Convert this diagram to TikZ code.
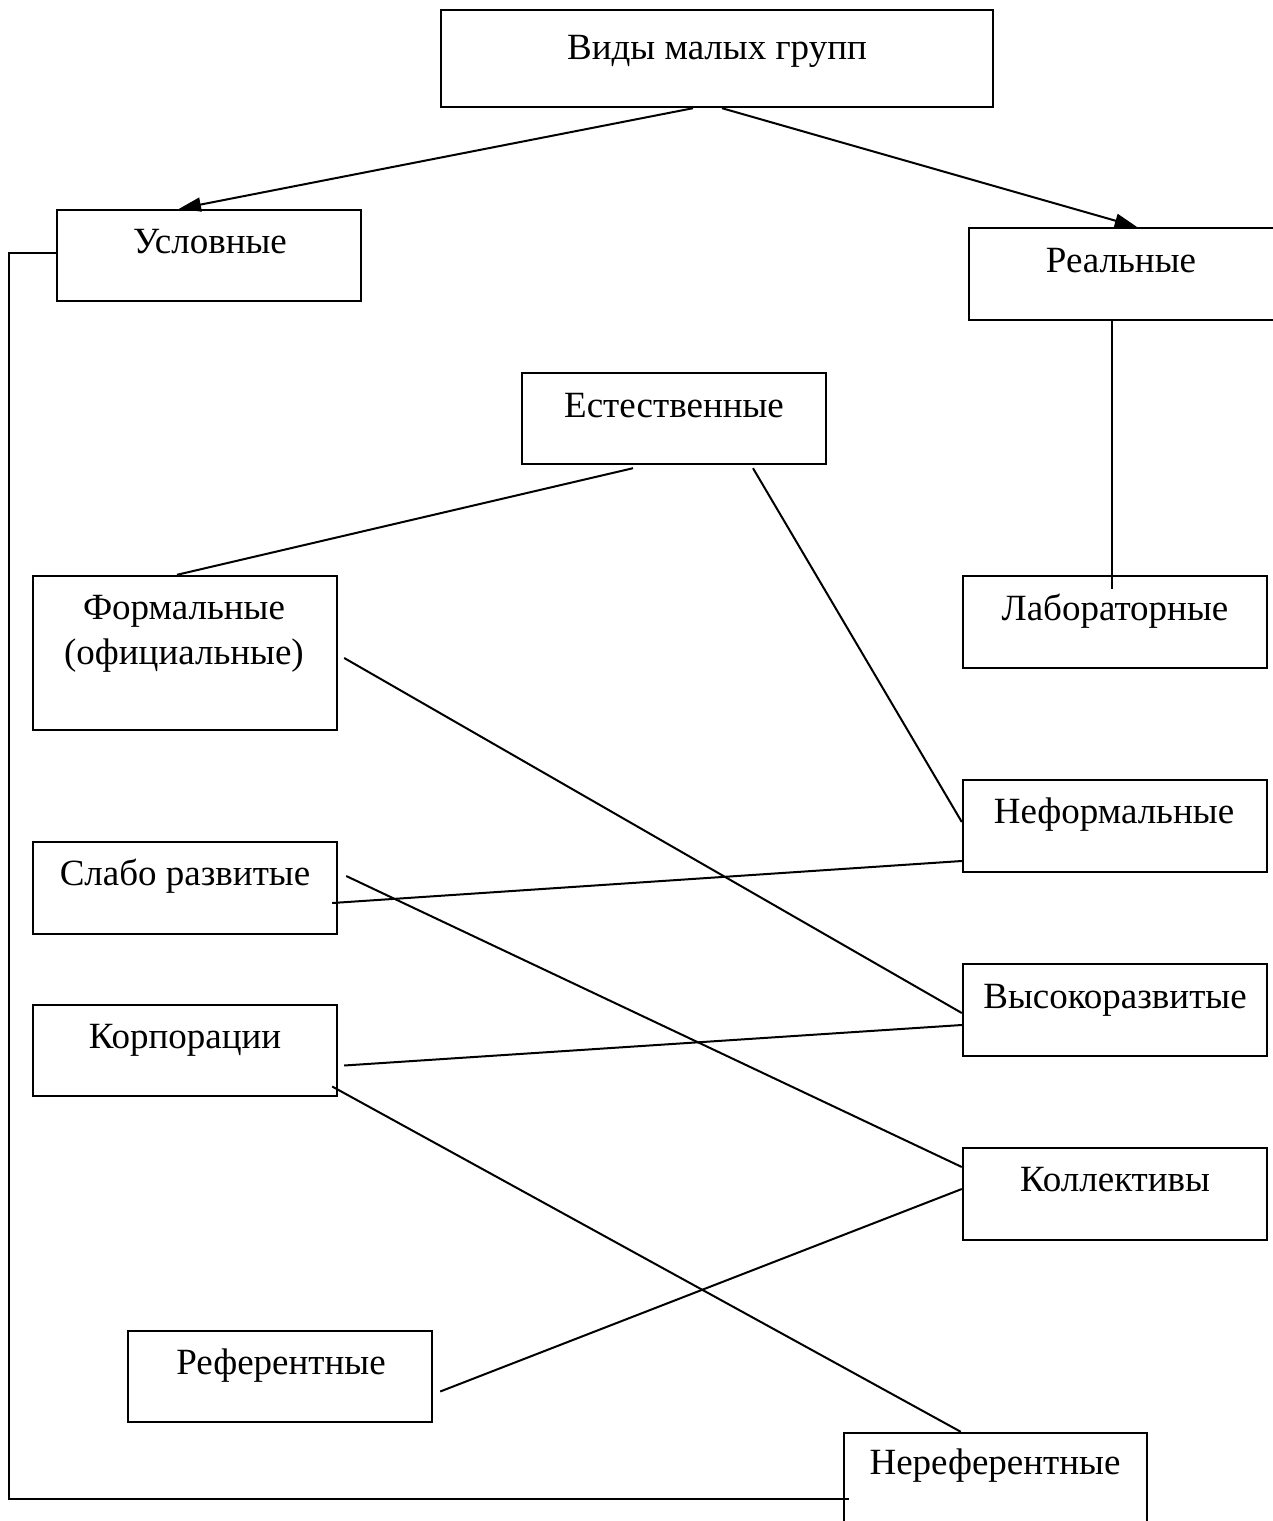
\documentclass[tikz,border=0pt]{standalone}
\usepackage{fontspec}
\setmainfont{Liberation Serif}
\usetikzlibrary{arrows.meta,calc}
\begin{document}
\begin{tikzpicture}[x=1pt,y=-1pt,
 box/.style={draw, line width=2.4pt, rectangle, inner sep=0pt},
 lbl/.style={anchor=base, inner sep=0pt, font=\fontsize{37}{44}\selectfont},
 conn/.style={line width=2pt},
 arr/.style={conn, -{Triangle[length=22pt,width=14pt]}}]
\useasboundingbox (0,0) rectangle (1272,1521);
\fill[white] (0,0) rectangle (1272,1521);

% boxes
\node[box, minimum width=552pt, minimum height=97pt] (top) at (717,58.5) {};
\node[box, minimum width=304pt, minimum height=91pt] (usl) at (209,255.5) {};
\node[box, minimum width=321pt, minimum height=92pt] (real) at (1129.5,274) {};
\node[box, minimum width=304pt, minimum height=91pt] (est) at (674,418.5) {};
\node[box, minimum width=304pt, minimum height=154pt] (form) at (185,653) {};
\node[box, minimum width=304pt, minimum height=92pt] (lab) at (1115,622) {};
\node[box, minimum width=304pt, minimum height=92pt] (neform) at (1115,826) {};
\node[box, minimum width=304pt, minimum height=92pt] (slabo) at (185,888) {};
\node[box, minimum width=304pt, minimum height=92pt] (vys) at (1115,1010) {};
\node[box, minimum width=304pt, minimum height=91pt] (korp) at (185,1050.5) {};
\node[box, minimum width=304pt, minimum height=92pt] (koll) at (1115,1194) {};
\node[box, minimum width=304pt, minimum height=91pt] (ref) at (280,1376.5) {};
\node[box, minimum width=303pt, minimum height=127pt] (neref) at (995.5,1496.5) {};

% labels
\node[lbl] (topt) at (717,59) {Виды малых групп};
\node[lbl] (uslt) at (210,253) {Условные};
\node[lbl] (realt) at (1121,272) {Реальные};
\node[lbl] (estt) at (674,417) {Естественные};
\node[lbl] (formt1) at (184,619) {Формальные};
\node[lbl] (formt2) at (184,664) {(официальные)};
\node[lbl] (labt) at (1115,620) {Лабораторные};
\node[lbl] (neformt) at (1114,823) {Неформальные};
\node[lbl] (slabot) at (185,885) {Слабо развитые};
\node[lbl] (vyst) at (1115,1008) {Высокоразвитые};
\node[lbl] (korpt) at (185,1048) {Корпорации};
\node[lbl] (kollt) at (1115,1191) {Коллективы};
\node[lbl] (reft) at (281,1374) {Референтные};
\node[lbl] (nereft) at (995,1474) {Нереферентные};

% connectors
\draw[arr] ([xshift=-24pt]top.south) -- ([xshift=-30pt]usl.north);
\draw[arr] ([xshift=5pt]top.south) -- ([xshift=169pt]real.north west);
\draw[conn] ([xshift=144pt]real.south west) -- ([xshift=150pt,yshift=-14pt]lab.north west);
\draw[conn] ([xshift=-41pt,yshift=-3pt]est.south) -- ([xshift=-8pt]form.north);
\draw[conn] ([xshift=79pt,yshift=-3pt]est.south) -- ([yshift=4pt]neform.west);
\draw[conn] ([xshift=6pt,yshift=-5pt]form.east) -- ([yshift=-3pt]vys.west);
\draw[conn] ([yshift=-35pt]neform.west) -- ([xshift=-6pt,yshift=-15pt]slabo.east);
\draw[conn] ([xshift=8pt,yshift=12pt]slabo.east) -- ([yshift=27pt]koll.west);
\draw[conn] ([yshift=-15pt]vys.west) -- ([xshift=6pt,yshift=-15pt]korp.east);
\draw[conn] ([xshift=-6pt,yshift=-36pt]korp.east) -- ([xshift=118pt]neref.north west);
\draw[conn] ([yshift=5pt]koll.west) -- ([xshift=7pt,yshift=-15pt]ref.east);
\draw[conn] ([yshift=3pt]usl.west) -- ++(-47,0) |- ([xshift=6pt,yshift=-67pt]neref.north west);
\end{tikzpicture}
\end{document}
